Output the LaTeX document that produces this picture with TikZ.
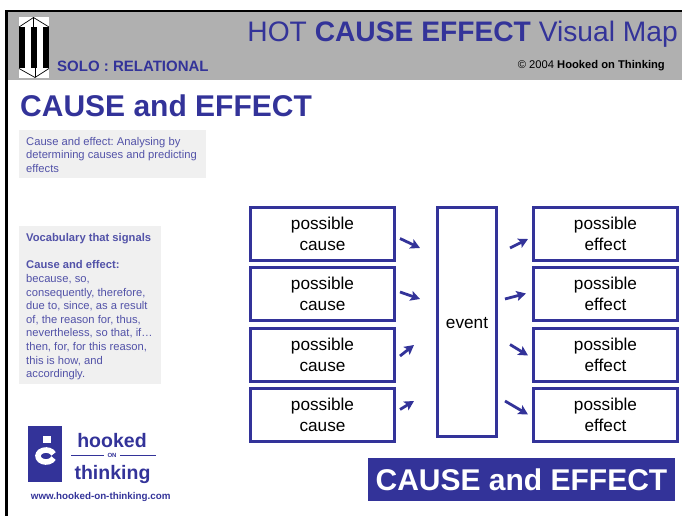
\documentclass[tikz,border=0pt]{standalone}
\usepackage{fontspec}
\setmainfont{Liberation Sans}
\usetikzlibrary{positioning}
\usetikzlibrary{arrows.meta}
\definecolor{hotblue}{HTML}{333399}
\definecolor{hotgrey}{HTML}{B0B0B0}
\definecolor{hotpale}{HTML}{F0F0F0}
\tikzset{
  mapbox/.style={draw=hotblue, line width=2.2pt, fill=white, inner sep=0pt, align=center,
    text=black, font=\fontsize{17.2}{20.5}\selectfont},
  causebox/.style={mapbox, minimum width=144pt, minimum height=53pt, execute at begin node={\rule{0pt}{18pt}}},
  signal/.style={hotblue, line width=2.8pt, -{Stealth[length=9.5pt,width=10pt,inset=2pt]}},
  panelblue/.style={text=hotblue!85!white, align=left, anchor=north west, inner sep=0pt,
    font=\fontsize{11.2}{13.6}\selectfont\frenchspacing},
  logoname/.style={anchor=base, inner sep=0pt, text=hotblue, font=\fontsize{19.5}{21}\selectfont\bfseries}
}
\begin{document}
\begin{tikzpicture}[x=1pt,y=-1pt]
\useasboundingbox (0,0) rectangle (682,516);

% header band
\fill[hotgrey] (7,12) rectangle (682,80);
\draw[black, line width=2.4pt] (6.5,516)--(6.5,11)--(682,11);

% solo icon
\fill[white] (19,17) rectangle (49,78);
\fill[black] (19,27) rectangle (24.5,68.5);
\fill[black] (30.7,27) rectangle (37.3,68.5);
\fill[black] (43.3,27) rectangle (49,68.5);
\draw[black, line width=0.7pt] (19,27)--(33.5,17.5)--(49,27);
\draw[black, line width=0.7pt] (33.5,17.5)--(33.5,27);
\draw[black, line width=0.7pt] (19,68.5)--(35,77.5)--(49,68.5);
\draw[black, line width=0.7pt] (35,68.5)--(35,77.5);

% header text
\node[anchor=base west, inner sep=0pt, text=hotblue, font=\fontsize{15}{16}\selectfont\bfseries] (solo) at (57,71.5) {SOLO : RELATIONAL};
\node[anchor=base east, inner sep=0pt, text=hotblue, font=\fontsize{28.2}{30}\selectfont] (title) at (678,42) {HOT \textbf{CAUSE EFFECT} Visual Map};
\node[anchor=base east, inner sep=0pt, text=black, font=\fontsize{11.2}{13}\selectfont] (copy) at (665,68.5) {© 2004 \textbf{Hooked on Thinking}};
\node[anchor=base west, inner sep=0pt, text=hotblue, font=\fontsize{30}{32}\selectfont\bfseries] (heading) at (20,117) {CAUSE and EFFECT};

% side panels
\fill[hotpale] (19,130) rectangle (206,178);
\node[panelblue] (define) at (26,137) {Cause and effect: Analysing by\\determining causes and predicting\\effects};
\fill[hotpale] (19,226) rectangle (161,384);
\node[panelblue] (vocab) at (26,233.3) {\textbf{Vocabulary that signals}\\[13.6pt]\textbf{Cause and effect:}\\because, so,\\consequently, therefore,\\due to, since, as a result\\of, the reason for, thus,\\nevertheless, so that, if…\\then, for, for this reason,\\this is how, and\\accordingly.};

% boxes
\node[causebox] (cause1) at (322.5,234) {possible\\cause};
\node[causebox] (cause2) at (322.5,294) {possible\\cause};
\node[causebox] (cause3) at (322.5,355) {possible\\cause};
\node[causebox] (cause4) at (322.5,415) {possible\\cause};
\node[causebox] (effect1) at (605.5,234) {possible\\effect};
\node[causebox] (effect2) at (605.5,294) {possible\\effect};
\node[causebox] (effect3) at (605.5,355) {possible\\effect};
\node[causebox] (effect4) at (605.5,415) {possible\\effect};
\node[mapbox, minimum width=59pt, minimum height=229pt, execute at begin node={\rule{0pt}{13.5pt}}] (event) at (467,322) {event};

% arrows
\coordinate (in1a) at (400,238.5);
\coordinate (in1b) at (420,248);
\coordinate (in2a) at (400,292);
\coordinate (in2b) at (420,299);
\coordinate (in3a) at (400,356);
\coordinate (in3b) at (414,345);
\coordinate (in4a) at (400,409.5);
\coordinate (in4b) at (414,401);
\coordinate (out1a) at (510,248);
\coordinate (out1b) at (528,239);
\coordinate (out2a) at (505,299);
\coordinate (out2b) at (526,293.5);
\coordinate (out3a) at (510,344.5);
\coordinate (out3b) at (528,355.5);
\coordinate (out4a) at (505,401);
\coordinate (out4b) at (528,414.5);
\foreach \n in {in1,in2,in3,in4,out1,out2,out3,out4}
\draw[signal] (\n a)--(\n b);

% banner
\node[fill=hotblue, text=white, inner sep=0pt, minimum width=307pt, minimum height=43pt, font=\fontsize{30}{32}\selectfont\bfseries] (banner) at (521.5,479.5) {CAUSE and EFFECT};

% logo
\fill[hotblue] (28,426) rectangle (62,482);
\fill[white] (43.3,435.7) rectangle (50.7,442.7);
\draw[white, line width=5.6pt] (53.52,453.95) arc[start angle=-20, delta angle=-320, x radius=8, y radius=6];
\node[logoname] (hooked) at (112,447.5) {hooked};
\node[logoname] (thinking) at (112.5,479.5) {thinking};
\node[inner sep=0pt, text=hotblue, font=\fontsize{6}{7}\selectfont\bfseries] (on) at (112,455.5) {ON};
\coordinate (ruleL) at (71,455.5);
\coordinate (ruleR) at (156,455.5);
\draw[hotblue, line width=0.8pt] (ruleL)--([xshift=-3.5pt]on.west);
\draw[hotblue, line width=0.8pt] ([xshift=3.5pt]on.east)--(ruleR);
\node[anchor=base, inner sep=0pt, text=hotblue, font=\fontsize{9.8}{11}\selectfont\bfseries] (site) at (100.7,499) {www.hooked-on-thinking.com};

\end{tikzpicture}
\end{document}
